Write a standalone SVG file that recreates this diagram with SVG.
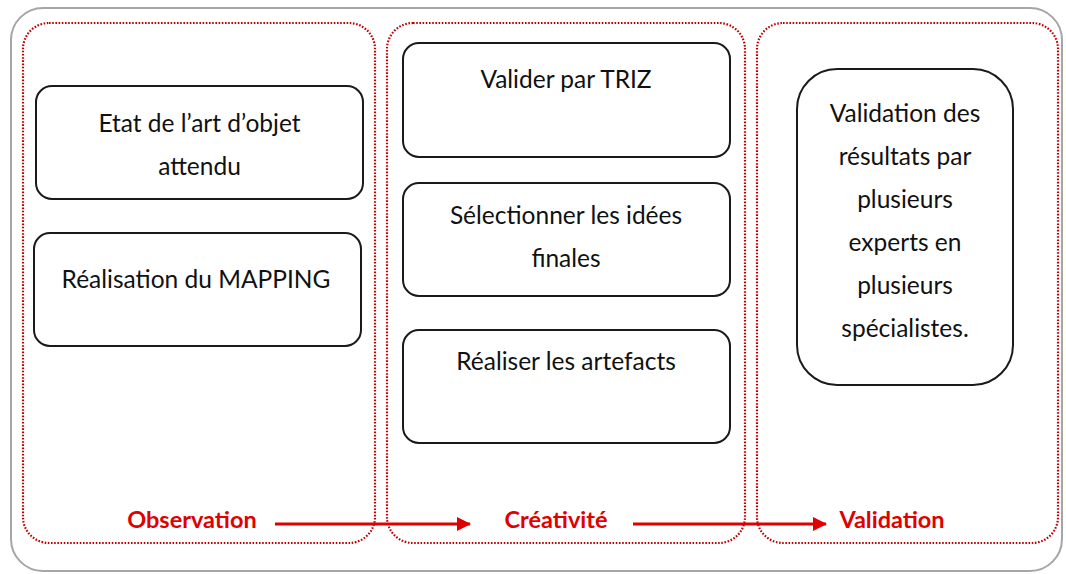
<svg xmlns="http://www.w3.org/2000/svg" width="1066" height="574" viewBox="0 0 1066 574">
<defs>
<style>
.outer{fill:#fff;stroke:#a6a6a6;stroke-width:2}
.panel{fill:none;stroke:#c00000;stroke-width:2.2;stroke-dasharray:1.6 1.6}
.box{fill:#fff;stroke:#1a1a1a;stroke-width:2}
.t{font-family:Lato,"Liberation Sans",sans-serif;font-size:24.5px;fill:#111;text-anchor:middle}
.lab{font-family:Lato,"Liberation Sans",sans-serif;font-size:23.5px;font-weight:bold;fill:#e00000;text-anchor:middle}
.arr{stroke:#e00000;stroke-width:3;fill:none}
</style>
<marker id="ah" markerWidth="14" markerHeight="14" refX="13" refY="7" orient="auto" markerUnits="userSpaceOnUse" viewBox="0 0 14 14">
<path d="M0,0 L14,7 L0,14 z" fill="#e00000"/>
</marker>
</defs>
<rect x="0" y="0" width="1066" height="574" fill="#fff"/>
<rect class="outer" x="11" y="8" width="1051" height="563" rx="32" ry="32"/>
<g id="panel-observation"><rect class="panel" x="23" y="23" width="352" height="520" rx="26" ry="26"/></g>
<g id="panel-creativite"><rect class="panel" x="387" y="23" width="358" height="520" rx="26" ry="26"/></g>
<g id="panel-validation"><rect class="panel" x="757" y="23" width="301" height="520" rx="26" ry="26"/></g>
<g id="n1"><rect class="box" x="36" y="86" width="327" height="113" rx="16" ry="16"/>
<text class="t" x="199.5" y="132">Etat de l’art d’objet</text><text class="t" x="199.5" y="175">attendu</text></g>
<g id="n2"><rect class="box" x="34" y="233" width="327" height="113" rx="16" ry="16"/>
<text class="t" x="196" y="288">Réalisation du MAPPING</text></g>
<g id="n3"><rect class="box" x="403" y="43" width="327" height="114" rx="16" ry="16"/>
<text class="t" x="566" y="88">Valider par TRIZ</text></g>
<g id="n4"><rect class="box" x="403" y="183" width="327" height="113" rx="16" ry="16"/>
<text class="t" x="566" y="224">Sélectionner les idées</text><text class="t" x="566" y="267">finales</text></g>
<g id="n5"><rect class="box" x="403" y="330" width="327" height="113" rx="16" ry="16"/>
<text class="t" x="566" y="370">Réaliser les artefacts</text></g>
<g id="n6"><rect class="box" x="797" y="69" width="216" height="316" rx="40" ry="40"/>
<text class="t" x="905" y="122">Validation des</text><text class="t" x="905" y="165">résultats par</text><text class="t" x="905" y="208">plusieurs</text><text class="t" x="905" y="251">experts en</text><text class="t" x="905" y="294">plusieurs</text><text class="t" x="905" y="337">spécialistes.</text></g>
<g id="labels">
<text class="lab" x="192" y="528">Observation</text>
<text class="lab" x="556" y="528">Créativité</text>
<text class="lab" x="892" y="528">Validation</text>
</g>
<g id="connectors">
<line class="arr" x1="275" y1="524" x2="470" y2="524" marker-end="url(#ah)"/>
<line class="arr" x1="633" y1="524" x2="826" y2="524" marker-end="url(#ah)"/>
</g>
</svg>
